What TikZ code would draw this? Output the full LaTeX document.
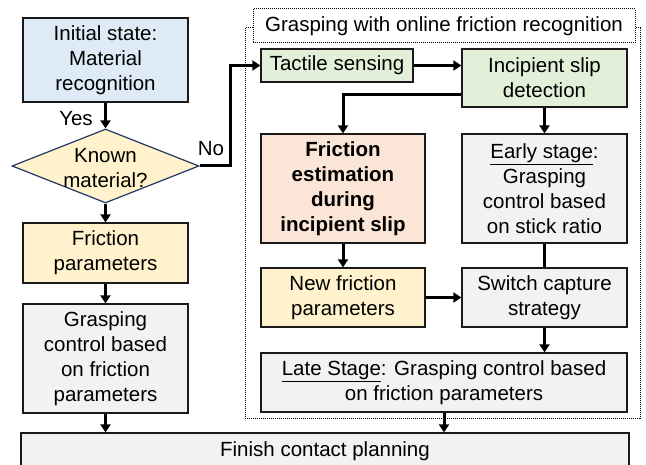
\documentclass[tikz,border=0pt]{standalone}
\usepackage{fontspec}
\setmainfont{Liberation Sans}
\usetikzlibrary{arrows.meta,shapes.geometric}
\definecolor{cblue}{HTML}{DEEBF7}
\definecolor{cyellow}{HTML}{FFF2CC}
\definecolor{cgreen}{HTML}{E2F0D9}
\definecolor{corange}{HTML}{FBE5D6}
\definecolor{cgray}{HTML}{F2F2F2}
\definecolor{cborder}{HTML}{1A1A1A}
\definecolor{cnavy}{HTML}{203864}
\tikzset{
  box/.style={draw=cborder, line width=1.3pt, rectangle, align=center, inner sep=0pt,
    font=\fontsize{20.5}{25}\selectfont},
  arr/.style={line width=3pt, -{Triangle[length=8pt,width=10pt]}},
  plain/.style={line width=3pt},
  dotframe/.style={draw=black, line width=1pt, densely dotted},
  lbl/.style={font=\fontsize{20.5}{25}\selectfont, inner sep=0pt},
}
\begin{document}
\begin{tikzpicture}[x=1pt,y=-1pt]
\useasboundingbox (0,0) rectangle (646,465);
% dotted frame
\draw[dotframe] (245,28) rectangle (640,418);
\node[box, dotframe, fill=white, minimum width=382pt, minimum height=34pt] (title) at (444,26) {Grasping with online friction recognition};
% left column
\node[box, fill=cblue, minimum width=165pt, minimum height=84pt] (init) at (105.5,60) {Initial state:\\Material\\recognition};
\node[diamond, draw=cnavy, line width=1.2pt, fill=cyellow, inner sep=0pt, minimum width=187pt, minimum height=74pt] (known) at (105.5,166) {};
\node[lbl, align=center] (knowntext) at (105.5,168) {Known\\material?};
\node[box, fill=cyellow, minimum width=165pt, minimum height=60pt] (fparam) at (105.5,253) {Friction\\parameters};
\node[box, fill=cgray, minimum width=165pt, minimum height=109pt] (grasp) at (105.5,358.5) {Grasping\\control based\\on friction\\parameters};
\node[box, fill=cgray, minimum width=608pt, minimum height=37pt] (finish) at (325,451.5) {Finish contact planning};
% right part
\node[box, fill=cgreen, minimum width=152pt, minimum height=33pt] (tactile) at (337,65.5) {Tactile sensing};
\node[box, fill=cgreen, minimum width=165pt, minimum height=58pt] (incip) at (544.5,78) {Incipient slip\\detection};
\node[box, fill=corange, minimum width=164pt, minimum height=109pt, font=\fontsize{20.5}{25}\selectfont\bfseries] (fest) at (343,188.5) {Friction\\estimation\\during\\incipient slip};
\node[box, fill=cgray, minimum width=165pt, minimum height=109pt] (early) at (544.5,188.5) {\underline{Early stage}:\\Grasping\\control based\\on stick ratio};
\node[box, fill=cyellow, minimum width=164pt, minimum height=59pt] (newf) at (343,297.5) {New friction\\parameters};
\node[box, fill=cgray, minimum width=165pt, minimum height=59pt] (switch) at (544.5,297.5) {Switch capture\\strategy};
\node[box, fill=cgray, minimum width=366pt, minimum height=59pt] (late) at (444,382.5) {\underline{Late Stage}: Grasping control based\\on friction parameters};
% labels
\node[lbl] (yes) at (76,119) {Yes};
\node[lbl] (no) at (211,149) {No};
% connectors
\coordinate (nobend) at (230,166);
\draw[arr] (init.south) -- (known.north);
\draw[arr] (known.south) -- (fparam.north);
\draw[arr] (fparam.south) -- (grasp.north);
\draw[arr] (grasp.south) -- (grasp.south |- finish.north);
\draw[arr] (known.east) -- (nobend) |- (tactile.west);
\draw[arr] (tactile.east) -- (tactile.east -| incip.west);
\draw[arr] ([yshift=-17pt]incip.west) -| (fest.north);
\draw[arr] (incip.south) -- (early.north);
\draw[arr] (fest.south) -- (newf.north);
\draw[plain] (early.south) -- (switch.north);
\draw[arr] (newf.east) -- (switch.west);
\draw[arr] (switch.south) -- (switch.south |- late.north);
\draw[arr] (late.south) -- (late.south |- finish.north);
\end{tikzpicture}
\end{document}
